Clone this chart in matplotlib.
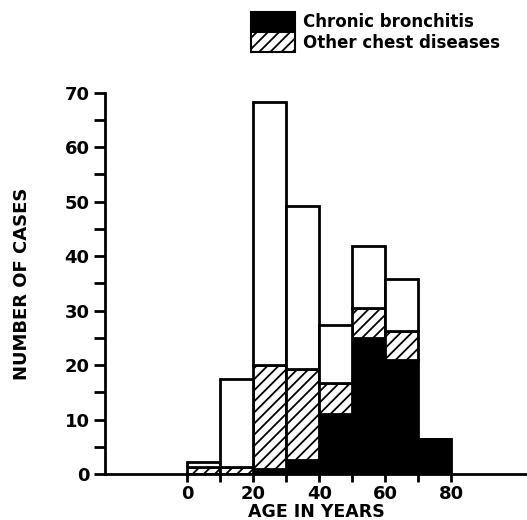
import numpy as np
import matplotlib.pyplot as plt
from matplotlib.patches import Patch

plt.rcParams['font.family'] = ['DejaVu Sans']
plt.rcParams['hatch.linewidth'] = 1.3

# age groups (left edge of each 10-year bin)
ages = [0, 10, 20, 30, 40, 50, 60, 70]
chronic = [0, 0, 1, 2.5, 11, 25, 21, 6.5]        # chronic bronchitis
other = [1.2, 1.2, 19, 16.8, 5.7, 5.5, 5.2, 0]   # other chest diseases
total = [2.2, 17.5, 68.3, 49.3, 27.4, 41.9, 35.8, 6.5]  # all cases

chronic = np.array(chronic)
other = np.array(other)
total = np.array(total)
rest = total - chronic - other

fig = plt.figure(figsize=(5.27, 5.20), dpi=100)
ax = fig.add_axes([0.199, 0.0885, 0.801, 0.733])

kw = dict(width=10, align='edge', edgecolor='black', linewidth=2)
ax.bar(ages, chronic, color='black', **kw)
ax.bar(ages, other, bottom=chronic, color='white', hatch='///', **kw)
ax.bar(ages, rest, bottom=chronic + other, color='white', **kw)

ax.set_xlim(-25, 103)
ax.set_ylim(0, 70)
for s in ['top', 'right']:
    ax.spines[s].set_visible(False)
ax.spines['left'].set_linewidth(2)
ax.spines['bottom'].set_linewidth(2)

ax.set_xticks(range(0, 81, 10))
ax.set_xticklabels([str(a) if a % 20 == 0 else '' for a in range(0, 81, 10)])
ax.set_yticks(range(0, 71, 10))
ax.set_yticks(range(5, 70, 10), minor=True)
ax.tick_params(axis='both', which='both', direction='out', width=2,
               labelsize=13)
ax.tick_params(axis='y', which='both', length=8, pad=3)
ax.tick_params(axis='x', which='both', length=6, pad=2)
for lab in ax.get_xticklabels() + ax.get_yticklabels():
    lab.set_fontweight('bold')

ax.set_xlabel('AGE IN YEARS', fontsize=12.5, fontweight='bold', labelpad=0)
ax.set_ylabel('NUMBER OF CASES', fontsize=13, fontweight='bold', labelpad=24)

handles = [Patch(facecolor='black', edgecolor='black', linewidth=1.5),
           Patch(facecolor='white', edgecolor='black', hatch='///', linewidth=1.5)]
fig.legend(handles, ['Chronic bronchitis', 'Other chest diseases'],
           loc='upper left', bbox_to_anchor=(0.455, 1.0), frameon=False,
           fontsize=12, handlelength=2.6, handleheight=1.5, labelspacing=0.0,
           handletextpad=0.5, borderaxespad=0.3)
for t in fig.legends[0].get_texts():
    t.set_fontweight('bold')

fig.savefig('out.png', dpi=100)
